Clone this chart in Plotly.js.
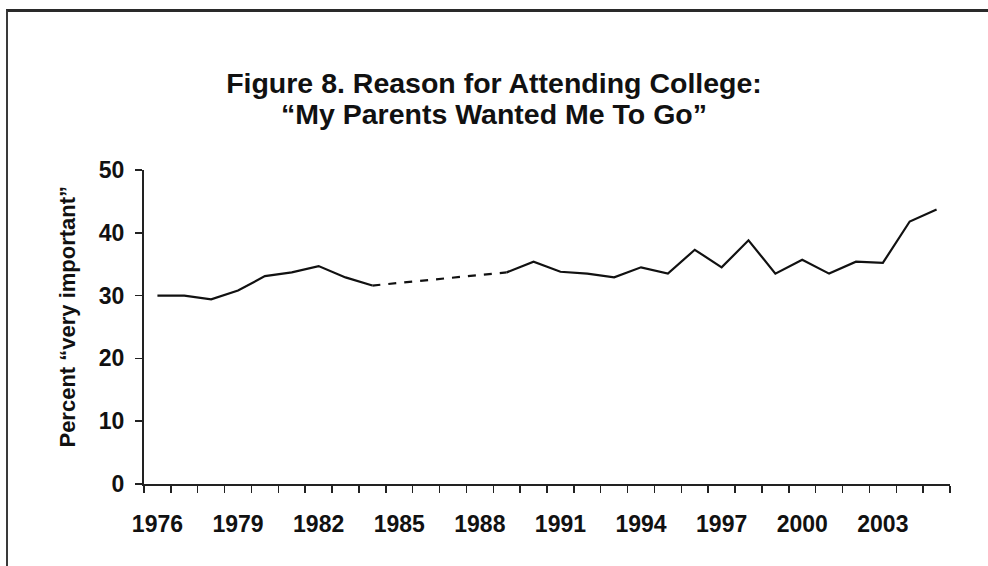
<!DOCTYPE html>
<html>
<head>
<meta charset="utf-8">
<script src="https://cdn.plot.ly/plotly-3.0.1.min.js"></script>
<style>
  html, body { margin: 0; padding: 0; background: #fff; }
  #wrap { position: relative; width: 988px; height: 566px; overflow: hidden; }
  #chart { width: 988px; height: 566px; }
  #frame { position: absolute; left: 6px; top: 9px; width: 990px; height: 570px;
           border-top: 3px solid #2a2a2a; border-left: 2px solid #3a3a3a; pointer-events: none; }
</style>
</head>
<body>
<div id="wrap">
  <div id="chart"></div>
  <div id="frame"></div>
</div>
<script>
// ---- data ----
const years = [1976,1977,1978,1979,1980,1981,1982,1983,1984,1985,1986,1987,1988,1989,
               1990,1991,1992,1993,1994,1995,1996,1997,1998,1999,2000,2001,2002,2003,2004,2005];
const percentVeryImportant = [30.0,30.0,29.4,30.8,33.1,33.7,34.7,32.9,31.6,null,null,null,null,33.7,
                              35.4,33.8,33.5,32.9,34.5,33.5,37.3,34.5,38.8,33.5,35.7,33.5,35.4,35.2,41.8,43.7];
const tickYears = [1976,1979,1982,1985,1988,1991,1994,1997,2000,2003];
const tickLabels = tickYears.map(String);
const yTicks = [0,10,20,30,40,50];

const titleLine1 = "Figure 8. Reason for Attending College:";
const titleLine2 = "\u201cMy Parents Wanted Me To Go\u201d";
const yTitle = "Percent \u201cvery important\u201d";

// gap years bridged with a dashed segment between the last and first known values
const gapStart = 1984, gapEnd = 1989;
const gapX = [gapStart, gapEnd];
const gapY = [percentVeryImportant[years.indexOf(gapStart)], percentVeryImportant[years.indexOf(gapEnd)]];

const FONT = "'Liberation Sans', Arial, Helvetica, sans-serif";
const INK = "#111";

const traces = [
  { x: years, y: percentVeryImportant, type: "scatter", mode: "lines",
    connectgaps: false, line: { color: INK, width: 2.2 }, hoverinfo: "x+y", showlegend: false },
  { x: gapX, y: gapY, type: "scatter", mode: "lines",
    line: { color: INK, width: 2.2, dash: "8px,8px" }, hoverinfo: "skip", showlegend: false }
];

const layout = {
  width: 988, height: 566,
  margin: { l: 143.5, r: 38, t: 170, b: 82 },
  paper_bgcolor: "#fff", plot_bgcolor: "#fff",
  showlegend: false,
  font: { family: FONT, color: INK },
  title: { text: titleLine1, font: { family: FONT, size: 28.5, weight: "bold", color: INK },
           xref: "container", x: 0.5, xanchor: "center",
           yref: "container", y: 1 - 83/566, yanchor: "middle" },
  annotations: [
    { text: titleLine2, xref: "paper", yref: "paper", x: (494 - 143.5)/806.5, y: (484 - 114)/314,
      xanchor: "center", yanchor: "middle", showarrow: false,
      font: { family: FONT, size: 28.5, weight: "bold", color: INK } },
    { text: yTitle, xref: "paper", yref: "paper", x: (66 - 143.5)/806.5, y: (484 - 317)/314,
      xanchor: "center", yanchor: "middle", showarrow: false, textangle: -90,
      font: { family: FONT, size: 22, weight: "bold", color: INK } }
  ],
  xaxis: {
    type: "linear", range: [1975.5, 2005.5], fixedrange: true,
    tickvals: tickYears, ticktext: tickLabels,
    ticks: "", ticklabelstandoff: 18,
    tickfont: { family: FONT, size: 23, weight: "bold", color: INK },
    minor: { tick0: 1975.5, dtick: 1, ticks: "outside", ticklen: 7, tickwidth: 1.5, tickcolor: "#222" },
    showline: true, linecolor: "#222", linewidth: 2,
    showgrid: false, zeroline: false
  },
  yaxis: {
    range: [0, 50], fixedrange: true,
    tickvals: yTicks, ticktext: yTicks.map(String),
    ticks: "outside", ticklen: 7, tickwidth: 1.5, tickcolor: "#222",
    ticklabelstandoff: 6,
    tickfont: { family: FONT, size: 23, weight: "bold", color: INK },
    showline: true, linecolor: "#222", linewidth: 2,
    showgrid: false, zeroline: false
  }
};

Plotly.newPlot("chart", traces, layout, { displayModeBar: false, staticPlot: true });
</script>
</body>
</html>
